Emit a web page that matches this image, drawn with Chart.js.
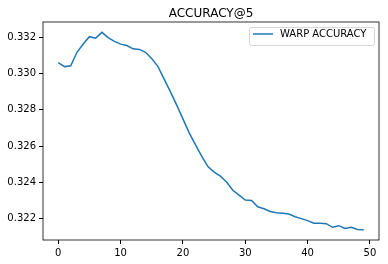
<!DOCTYPE html>
<html>
<head>
<meta charset="utf-8">
<script src="https://cdn.jsdelivr.net/npm/chart.js@4"></script>
<style>
  html, body { margin: 0; padding: 0; background: #fff; }
  #wrap { width: 388px; height: 264px; }
</style>
</head>
<body>
<div id="wrap"><canvas id="accChart" width="388" height="264"></canvas></div>
<script>
// Datos
const titulo = 'ACCURACY@5';
const etiquetaSerie = 'WARP ACCURACY';
const epocas = Array.from({ length: 50 }, (_, i) => i);
const precision = [
    0.33060, 0.33038, 0.33043, 0.33117, 0.33163, 0.33203, 0.33195, 0.33227, 0.33198, 0.33177,
    0.33162, 0.33154, 0.33136, 0.33133, 0.33117, 0.33082, 0.33038, 0.32968, 0.32899, 0.32826,
    0.32750, 0.32673, 0.32608, 0.32545, 0.32487, 0.32456, 0.32434, 0.32402, 0.32356, 0.32329,
    0.32302, 0.32300, 0.32265, 0.32254, 0.32239, 0.32232, 0.32230, 0.32225, 0.32210, 0.32200,
    0.32189, 0.32175, 0.32175, 0.32172, 0.32152, 0.32161, 0.32146, 0.32152, 0.32140, 0.32138
];
const ticksX = [0, 10, 20, 30, 40, 50];
const ticksY = [0.322, 0.324, 0.326, 0.328, 0.330, 0.332];

const fuente = 'DejaVu Sans';
const colorLinea = '#1f77b4';

// Marco, titulo y leyenda al estilo matplotlib
const estiloMpl = {
    id: 'estiloMpl',
    afterDraw(chart) {
        const { ctx, chartArea: a } = chart;
        ctx.save();
        ctx.strokeStyle = '#000';
        ctx.lineWidth = 0.8;
        ctx.strokeRect(a.left, a.top, a.right - a.left, a.bottom - a.top);

        ctx.fillStyle = '#000';
        ctx.font = '12px "' + fuente + '"';
        ctx.textAlign = 'center';
        ctx.textBaseline = 'alphabetic';
        ctx.fillText(titulo, (a.left + a.right) / 2, 17);

        // leyenda
        const x0 = 249.5, y0 = 27.5, w = 125, h = 18;
        ctx.beginPath();
        ctx.roundRect(x0, y0, w, h, 2);
        ctx.fillStyle = 'rgba(255,255,255,0.8)';
        ctx.fill();
        ctx.strokeStyle = '#d6d6d6';
        ctx.lineWidth = 1;
        ctx.stroke();
        const ds = chart.data.datasets[0];
        ctx.beginPath();
        ctx.moveTo(253, 34);
        ctx.lineTo(273, 34);
        ctx.strokeStyle = ds.borderColor;
        ctx.lineWidth = 1.5;
        ctx.stroke();
        ctx.fillStyle = '#000';
        ctx.font = '10px "' + fuente + '"';
        ctx.textAlign = 'left';
        ctx.textBaseline = 'middle';
        ctx.fillText(ds.label, 280, 34.5);
        ctx.restore();
    }
};

const ctx = document.getElementById('accChart').getContext('2d');
new Chart(ctx, {
    type: 'line',
    data: {
        datasets: [{
            label: etiquetaSerie,
            data: epocas.map((e, i) => ({ x: e, y: precision[i] })),
            borderColor: colorLinea,
            borderWidth: 1.5,
            pointRadius: 0,
            tension: 0,
            fill: false
        }]
    },
    options: {
        responsive: false,
        animation: false,
        layout: { padding: { top: 22, right: 9, left: 0, bottom: 0 } },
        scales: {
            x: {
                type: 'linear',
                min: -2.45,
                max: 51.45,
                afterBuildTicks: s => { s.ticks = ticksX.map(v => ({ value: v })); },
                afterFit: s => { s.height = 24; },
                grid: { drawOnChartArea: false, drawTicks: true, tickLength: 4, color: '#000' },
                border: { display: false },
                ticks: {
                    padding: 3,
                    color: '#000',
                    maxRotation: 0,
                    font: { family: fuente, size: 10 }
                }
            },
            y: {
                type: 'linear',
                min: 0.32082,
                max: 0.33284,
                afterBuildTicks: s => { s.ticks = ticksY.map(v => ({ value: v })); },
                afterFit: s => { s.width = 43; },
                grid: { drawOnChartArea: false, drawTicks: true, tickLength: 4, color: '#000' },
                border: { display: false },
                ticks: {
                    padding: 3,
                    color: '#000',
                    font: { family: fuente, size: 10 },
                    callback: v => v.toFixed(3)
                }
            }
        },
        plugins: {
            legend: { display: false },
            title: { display: false },
            tooltip: { enabled: false }
        }
    },
    plugins: [estiloMpl]
});
</script>
</body>
</html>
